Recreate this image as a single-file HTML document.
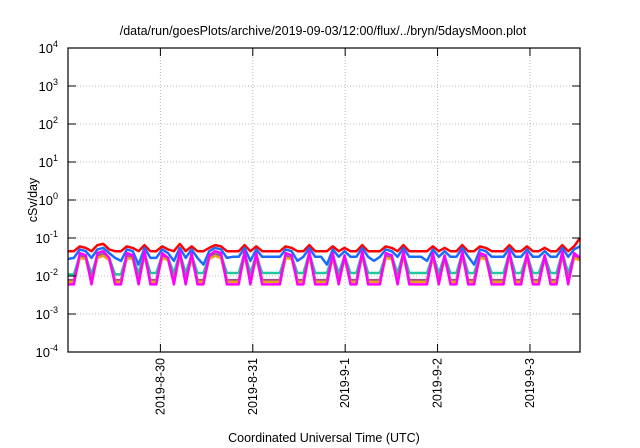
<!DOCTYPE html>
<html><head><meta charset="utf-8"><style>
body{margin:0;background:#fff;}
svg{display:block;font-family:"Liberation Sans",sans-serif;}
</style></head><body>
<svg id="chart" width="640" height="448">
<text x="323" y="35" font-size="12.5" text-anchor="middle">/data/run/goesPlots/archive/2019-09-03/12:00/flux/../bryn/5daysMoon.plot</text>
<text x="324" y="442" font-size="12.5" text-anchor="middle">Coordinated Universal Time (UTC)</text>
<text transform="translate(37,200) rotate(-90)" font-size="12.5" text-anchor="middle">cSv/day</text>
<g id="grid"></g><g id="series"></g><g id="axes"></g>
</svg>
<script>
const yExps=[-4,-3,-2,-1,0,1,2,3,4];
const dateLabels=["2019-8-30","2019-8-31","2019-9-1","2019-9-2","2019-9-3"];
const dateHours=[24,48,72,96,120];
const totalHours=133;
const red=[.045,.045,.06,.055,.045,.065,.07,.05,.045,.045,
.06,.055,.045,.065,.045,.045,.06,.05,.045,.07,
.045,.06,.045,.045,.055,.065,.06,.045,.045,.045,
.065,.045,.06,.045,.045,.045,.045,.06,.055,.045,
.045,.065,.045,.045,.045,.06,.045,.055,.045,.045,
.065,.045,.045,.045,.06,.055,.045,.065,.045,.045,
.045,.045,.06,.045,.055,.045,.045,.065,.045,.045,
.06,.055,.045,.045,.045,.065,.045,.045,.06,.045,
.045,.055,.045,.045,.065,.045,.06,.1];
const blue=[.028,.03,.05,.045,.03,.05,.055,.04,.03,.025,
.05,.045,.02,.055,.03,.03,.05,.04,.025,.055,
.03,.05,.03,.02,.045,.055,.05,.03,.032,.032,
.055,.025,.05,.032,.032,.032,.032,.05,.045,.025,
.032,.055,.032,.032,.02,.05,.032,.045,.032,.032,
.055,.032,.025,.032,.05,.045,.032,.055,.032,.032,
.032,.025,.05,.032,.045,.032,.032,.055,.032,.02,
.05,.045,.032,.032,.032,.055,.032,.032,.05,.032,
.032,.045,.032,.032,.055,.032,.05,.06];
const teal=[.011,.011,.035,.033,.011,.035,.04,.03,.011,.011,
.035,.033,.012,.04,.012,.012,.035,.03,.012,.04,
.012,.035,.012,.012,.033,.04,.035,.012,.012,.012,
.04,.012,.035,.012,.012,.012,.012,.035,.033,.012,
.012,.04,.012,.012,.012,.035,.012,.033,.012,.012,
.04,.012,.012,.012,.035,.033,.012,.04,.012,.012,
.012,.012,.035,.012,.033,.012,.012,.04,.012,.012,
.035,.033,.012,.012,.012,.04,.012,.012,.035,.012,
.012,.033,.012,.012,.04,.012,.035,.03];
const purple=[.0078,.0078,.033,.03,.0078,.033,.037,.028,.0078,.0078,
.033,.03,.0078,.037,.0078,.0078,.033,.028,.0078,.037,
.0078,.033,.0078,.0078,.03,.037,.033,.0078,.0078,.0078,
.037,.0078,.033,.0078,.0078,.0078,.0078,.033,.03,.0078,
.0078,.037,.0078,.0078,.0078,.033,.0078,.03,.0078,.0078,
.037,.0078,.0078,.0078,.033,.03,.0078,.037,.0078,.0078,
.0078,.0078,.033,.0078,.03,.0078,.0078,.037,.0078,.0078,
.033,.03,.0078,.0078,.0078,.037,.0078,.0078,.033,.0078,
.0078,.03,.0078,.0078,.037,.0078,.033,.028];
const orange=[.007,.007,.03,.028,.007,.03,.034,.026,.007,.007,
.03,.028,.007,.034,.007,.007,.03,.026,.007,.034,
.007,.03,.007,.007,.028,.034,.03,.007,.007,.007,
.034,.007,.03,.007,.007,.007,.007,.03,.028,.007,
.007,.034,.007,.007,.007,.03,.007,.028,.007,.007,
.034,.007,.007,.007,.03,.028,.007,.034,.007,.007,
.007,.007,.03,.007,.028,.007,.007,.034,.007,.007,
.03,.028,.007,.007,.007,.034,.007,.007,.03,.007,
.007,.028,.007,.007,.034,.007,.03,.026];
const magenta=[.006,.006,.04,.035,.006,.04,.045,.03,.006,.006,
.04,.035,.006,.045,.006,.006,.04,.03,.006,.045,
.006,.04,.006,.006,.035,.045,.04,.006,.006,.006,
.045,.006,.04,.006,.006,.006,.006,.04,.035,.006,
.006,.045,.006,.006,.006,.04,.006,.035,.006,.006,
.045,.006,.006,.006,.04,.035,.006,.045,.006,.006,
.006,.006,.04,.006,.035,.006,.006,.045,.006,.006,
.04,.035,.006,.006,.006,.045,.006,.006,.04,.006,
.006,.035,.006,.006,.045,.006,.04,.03];

const L=68,R=580,T=48,B=352;
const NS="http://www.w3.org/2000/svg";
function xS(h){return L+(R-L)*h/totalHours;}
function yS(v){return B-(Math.log10(v)+4)/8*(B-T);}
function mk(tag,attrs,parent){const e=document.createElementNS(NS,tag);for(const k in attrs)e.setAttribute(k,attrs[k]);parent.appendChild(e);return e;}
const grid=document.getElementById('grid'),axes=document.getElementById('axes'),ser=document.getElementById('series');
yExps.forEach(p=>{
  const y=yS(Math.pow(10,p));
  if(p>-4&&p<4){const g=mk('line',{x1:L,x2:R,y1:y,y2:y,stroke:'#bbb','stroke-dasharray':'1,2','stroke-width':1},grid);
  
  }
  mk('line',{x1:L,x2:L+8,y1:y,y2:y,stroke:'#000'},axes);
  mk('line',{x1:R-8,x2:R,y1:y,y2:y,stroke:'#000'},axes);
  const t=mk('text',{x:L-10,y:y+5,'font-size':13,'text-anchor':'end'},axes);
  
  
  t.textContent='10';
  const s=mk('tspan',{'font-size':9,dy:-6},t);s.textContent=String(p);
});
dateHours.forEach((h,i)=>{
  const x=xS(h);
  const g=mk('line',{x1:x,x2:x,y1:T,y2:B,stroke:'#bbb','stroke-dasharray':'1,2'},grid);
  
  
  mk('line',{x1:x,x2:x,y1:B-8,y2:B,stroke:'#000'},axes);
  mk('line',{x1:x,x2:x,y1:T,y2:T+8,stroke:'#000'},axes);
  const t=mk('text',{transform:`translate(${x+4},${B+6}) rotate(-90)`,'font-size':12.5,'text-anchor':'end'},axes);
  
  
  t.textContent=dateLabels[i];
});
const fr=mk('rect',{x:L,y:T,width:R-L,height:B-T,fill:'none',stroke:'#000','stroke-width':1.2},axes);


const list=[['red',red,'#ff0000','series-red'],['blue',blue,'#1a6cff','series-blue'],['teal',teal,'#20c8a0','series-teal'],['purple',purple,'#a04c8c','series-purple'],['orange',orange,'#e8a020','series-orange'],['magenta',magenta,'#ff00ff','series-magenta']];
list.forEach(([n,arr,c,name])=>{
  const pts=arr.map((v,i)=>xS(i*totalHours/(arr.length-1)).toFixed(1)+','+yS(v).toFixed(1)).join(' ');
  const p=mk('polyline',{points:pts,fill:'none',stroke:c,'stroke-width':2.5,'stroke-linejoin':'round'},ser);
  
  
});
</script>
</body></html>
